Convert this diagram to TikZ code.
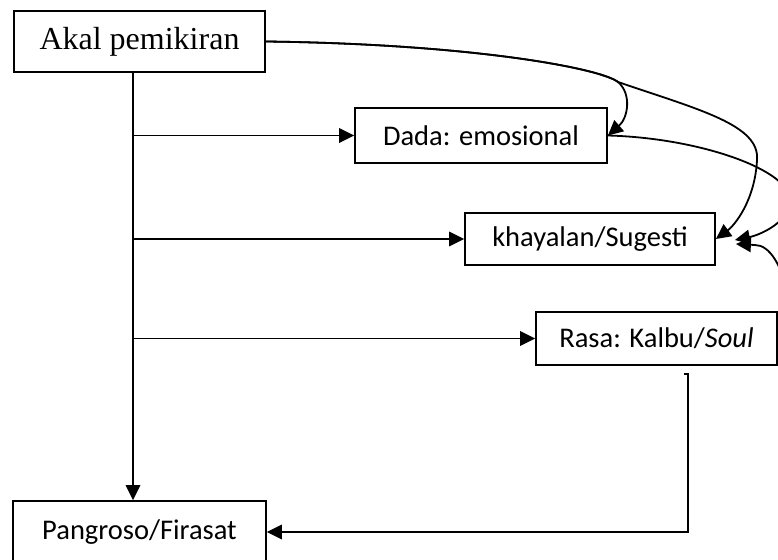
\documentclass[tikz,border=0pt]{standalone}
\usepackage{fontspec}
\setmainfont{Carlito}
\newfontfamily\akalfont{Liberation Serif}
\usetikzlibrary{arrows.meta,calc,positioning}
\tikzset{
>={Triangle[length=15pt,width=14.5pt]},
  kotak/.style={
    rectangle,
    draw=black, line width=1.8pt,
    inner sep=0pt,
    text centered,
    font=\fontsize{28.5}{34}\selectfont},
  line/.style={draw, line width=1.8pt, ->},
}

\begin{document}
\begin{tikzpicture}[
    x=1pt, y=-1pt,
    every node/.style={color=black}
    ]

	\clip (0,0) rectangle (778,559);

	% kotak-kotak
	\node[kotak, minimum width=251pt, minimum height=61pt,
	  font=\akalfont\fontsize{32}{38}\selectfont] (akal) at (139.5,41.5) {Akal pemikiran};
	\node[kotak, minimum width=252pt, minimum height=55pt] (dada) at (481,135.5) {Dada: emosional};
	\node[kotak, minimum width=250pt, minimum height=52pt] (khayal) at (590,239) {khayalan/Sugesti};
	\node[kotak, minimum width=241pt, minimum height=53pt] (rasa) at (656.5,338.5) {Rasa: Kalbu/\textit{Soul}};
	\node[kotak, minimum width=253pt, minimum height=62pt] (pango) at (139.5,532) {Pangroso/Firasat};

	% batang utama
	\coordinate (batang) at ([xshift=-6.5pt]akal.south);
	\draw[line] (batang) -- ([xshift=-6.5pt]pango.north);
	\draw[line] (batang |- dada.west) -- (dada.west);
	\draw[line] (batang |- khayal.west) -- (khayal.west);
	\draw[line] (batang |- rasa.west) -- (rasa.west);

	% rasa ke pangroso
	\coordinate (kaki) at (684,374);
	\draw[line] (kaki) -- ++(4,0) |- (pango.east);

	% lengkung dari akal
	\draw[line] (akal.east) .. controls (470,44) and (600,68) .. (618,82)
	  .. controls (632,94) and (628,118) .. (dada.east);
	\draw[line] (akal.east) .. controls (470,44) and (600,68) .. (618,82)
	  .. controls (700,110) and (760,125) .. (757,160)
	  .. controls (755,200) and (735,225) .. (khayal.east);

	% lengkung ke khayalan
	\draw[line] (dada.east) .. controls (700,138) and (790,170) .. (790,200)
	  .. controls (790,222) and (760,235) .. ([xshift=19pt,yshift=-1pt]khayal.east);
	\draw[line] (rasa.east) .. controls (800,330) and (785,245) .. (755,245)
	  -- ([xshift=20pt,yshift=-5pt]khayal.east);

\end{tikzpicture}
\end{document}
